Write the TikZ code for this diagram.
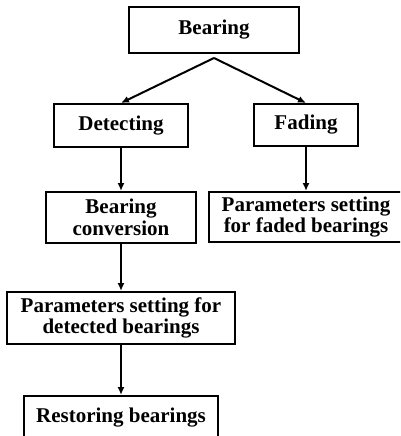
\documentclass[tikz,border=0pt]{standalone}
\usepackage{fontspec}
\setmainfont{Liberation Serif}
\usetikzlibrary{arrows.meta}
\begin{document}
\begin{tikzpicture}[x=1pt,y=-1pt,
  box/.style={draw,line width=2pt,inner sep=0pt,align=center,
    font=\bfseries\fontsize{21}{21.5}\selectfont},
  arr/.style={line width=2pt,-{Latex[length=8pt,width=7pt]}}]
\clip (0,0) rectangle (400,436);
\node[box,minimum width=170pt,minimum height=46pt] (bear) at (214,30) {Bearing};
\node[box,minimum width=134pt,minimum height=43pt] (det) at (121,125.5) {Detecting};
\node[box,minimum width=104pt,minimum height=42pt] (fad) at (306,125) {Fading};
\node[box,minimum width=150pt,minimum height=51pt] (conv) at (121,217.5) {Bearing\\conversion};
\node[box,minimum width=194pt,minimum height=50pt] (fpar) at (306,217) {Parameters setting\\for faded bearings};
\node[box,minimum width=228pt,minimum height=52pt] (dpar) at (121,318) {Parameters setting for\\detected bearings};
\node[box,minimum width=194pt,minimum height=43pt] (rest) at (121,417.5) {Restoring bearings};
\coordinate (apex) at ([yshift=-4pt]bear.south);
\draw[arr] (apex) -- (det.north);
\draw[arr] (apex) -- (fad.north);
\draw[arr] (det.south) -- (conv.north);
\draw[arr] (fad.south) -- (fpar.north);
\draw[arr] (conv.south) -- (dpar.north);
\draw[arr] (dpar.south) -- (rest.north);
\end{tikzpicture}
\end{document}
